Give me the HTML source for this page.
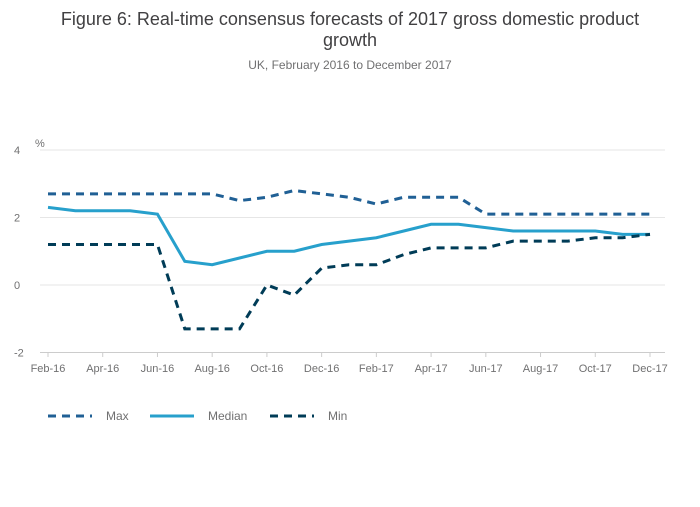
<!DOCTYPE html>
<html><head><meta charset="utf-8"><style>
body{margin:0;background:#fff;font-family:"Liberation Sans",sans-serif;}
svg text{font-family:"Liberation Sans",sans-serif;}
</style></head><body>
<svg width="700" height="502">
<text x="350" y="25" text-anchor="middle" font-size="18" fill="#414042">Figure 6: Real-time consensus forecasts of 2017 gross domestic product</text>
<text x="350" y="46" text-anchor="middle" font-size="18" fill="#414042">growth</text>
<text x="350" y="69" text-anchor="middle" font-size="12" fill="#707071">UK, February 2016 to December 2017</text>
<text x="35" y="147" font-size="11" fill="#707071">%</text>
<g id="grid"></g><g id="xaxis"></g><g id="series"></g>
<g>
<line x1="48" y1="416" x2="92" y2="416" stroke="#206095" stroke-width="3" stroke-dasharray="8,6"/>
<text x="106" y="420" font-size="12" fill="#707071">Max</text>
<line x1="150" y1="416" x2="194" y2="416" stroke="#27a0cc" stroke-width="3"/>
<text x="208" y="420" font-size="12" fill="#707071">Median</text>
<line x1="270" y1="416" x2="314" y2="416" stroke="#003c57" stroke-width="3" stroke-dasharray="8,6"/>
<text x="328" y="420" font-size="12" fill="#707071">Min</text>
</g>
</svg>
<script>
const categories=["Feb-16","Mar-16","Apr-16","May-16","Jun-16","Jul-16","Aug-16","Sep-16","Oct-16","Nov-16","Dec-16","Jan-17","Feb-17","Mar-17","Apr-17","May-17","Jun-17","Jul-17","Aug-17","Sep-17","Oct-17","Nov-17","Dec-17"];
const maxValues=[2.7,2.7,2.7,2.7,2.7,2.7,2.7,2.5,2.6,2.8,2.7,2.6,2.4,2.6,2.6,2.6,2.1,2.1,2.1,2.1,2.1,2.1,2.1];
const medianValues=[2.3,2.2,2.2,2.2,2.1,0.7,0.6,0.8,1.0,1.0,1.2,1.3,1.4,1.6,1.8,1.8,1.7,1.6,1.6,1.6,1.6,1.5,1.5];
const minValues=[1.2,1.2,1.2,1.2,1.2,-1.3,-1.3,-1.3,0.0,-0.3,0.5,0.6,0.6,0.9,1.1,1.1,1.1,1.3,1.3,1.3,1.4,1.4,1.5];
const yTicks=[4,2,0,-2];
const NS="http://www.w3.org/2000/svg";
const x=i=>48+i*(602/22);
const y=v=>285-v*33.75;
function mk(tag,attrs,parent){const e=document.createElementNS(NS,tag);for(const k in attrs)e.setAttribute(k,attrs[k]);document.getElementById(parent).appendChild(e);return e;}
yTicks.forEach(t=>{
 const l=mk("line",{x1:40,x2:665,y1:y(t),y2:y(t),stroke:t===-2?"#ccc":"#e6e6e6","stroke-width":1},"grid");
 
 
 const tx=mk("text",{x:14,y:y(t)+4,"font-size":11,fill:"#707071"},"grid");tx.textContent=t;
 
 
});
categories.forEach((c,i)=>{
 if(i%2===0){
  const tk=mk("line",{x1:x(i),x2:x(i),y1:352,y2:357,stroke:"#ccc"},"xaxis");
  
  
  const tx=mk("text",{x:x(i),y:372,"font-size":11,fill:"#707071","text-anchor":"middle"},"xaxis");tx.textContent=c;
  
  
 }
});
function line(vals,color,dash,name){
 const p=mk("polyline",{points:vals.map((v,i)=>x(i)+","+y(v)).join(" "),fill:"none",stroke:color,"stroke-width":3,"stroke-dasharray":dash},"series");
 
 
}
line(maxValues,"#206095","8,6","max-line");
line(medianValues,"#27a0cc","none","median-line");
line(minValues,"#003c57","8,6","min-line");
</script>
</body></html>
